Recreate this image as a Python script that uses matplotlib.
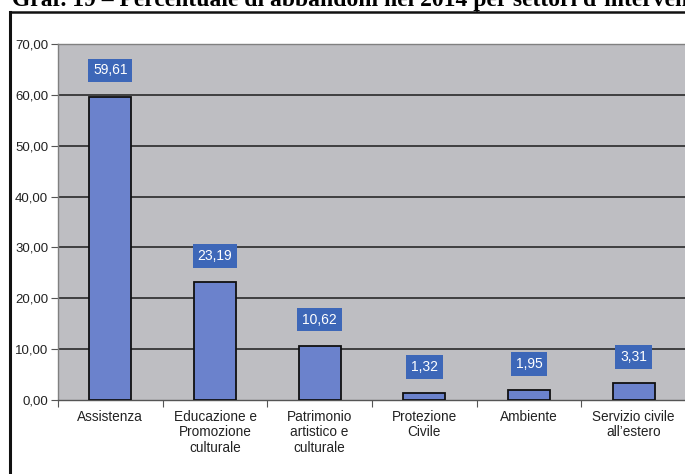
import matplotlib.pyplot as plt
from matplotlib.lines import Line2D

# Dati: percentuale di abbandoni nel 2014 per settore
settori = ["Assistenza", "Educazione e\nPromozione\nculturale", "Patrimonio\nartistico e\nculturale",
           "Protezione\nCivile", "Ambiente", "Servizio civile\nall\u2019estero"]
valori = [59.61, 23.19, 10.62, 1.32, 1.95, 3.31]
y_ticks = [0, 10, 20, 30, 40, 50, 60, 70]

W, H = 685, 474
fig = plt.figure(figsize=(W / 100, H / 100), dpi=100)
fig.patch.set_facecolor("white")

# area del grafico (in pixel dell'immagine)
left, right, top, bottom = 58, 686, 44, 400
ax = fig.add_axes([left / W, 1 - bottom / H, (right - left) / W, (bottom - top) / H])
ax.set_facecolor("#bebec2")

x = list(range(len(settori)))
ax.bar(x, valori, width=0.40, color="#6b82cc", edgecolor="#111111", linewidth=1.3, zorder=3)

ax.set_xlim(-0.5, len(settori) - 0.5)
ax.set_ylim(0, 70)
for v in y_ticks[1:-1]:
    ax.axhline(v, color="#2a2a2a", linewidth=1.2, zorder=1)

ax.set_yticks(y_ticks)
ax.set_yticklabels([f"{v:.2f}".replace(".", ",") for v in y_ticks],
                   fontsize=9.5, family="Liberation Sans", color="#222222")
ax.set_xticks([i - 0.5 for i in range(len(settori) + 1)])
ax.set_xticklabels([])
ax.set_xticks(x, minor=True)
ax.set_xticklabels(settori, minor=True, fontsize=9.8, family="Liberation Sans",
                   color="#222222", linespacing=1.15)
ax.tick_params(axis="x", which="minor", length=0, pad=7)
ax.tick_params(axis="x", which="major", length=5, color="#555555", direction="out")
ax.tick_params(axis="y", length=5, color="#555555", direction="out", pad=2)

for s in ["left", "top", "right"]:
    ax.spines[s].set_color("#808080")
    ax.spines[s].set_linewidth(1.0)
ax.spines["bottom"].set_color("#555555")
ax.spines["bottom"].set_linewidth(1.0)

# etichette dei valori in box blu
for xi, v in zip(x, valori):
    ax.annotate(f"{v:.2f}".replace(".", ","), (xi, v), xytext=(0, 19), textcoords="offset points",
                ha="center", va="center", fontsize=10, family="Liberation Sans", color="white",
                bbox=dict(boxstyle="square,pad=0.35", facecolor="#3d67b8", edgecolor="none"),
                zorder=4)

# cornice esterna e titolo (tagliato in alto)
fig.add_artist(Line2D([10 / W, 10 / W], [0, 1 - 12 / H], color="#111111", linewidth=2.2))
fig.add_artist(Line2D([10 / W, 1], [1 - 12 / H, 1 - 12 / H], color="#111111", linewidth=1.8))
fig.add_artist(Line2D([477 / W, 477 / W], [1 - 12 / H, 1], color="#111111", linewidth=1.2))
fig.text(12 / W, 1 - 6 / H, "Graf. 19 \u2013 Percentuale di abbandoni nel 2014 per settori d\u2019intervento",
         fontsize=17, fontweight="bold", family="Liberation Serif", ha="left", va="baseline")

fig.savefig("out.png", dpi=100)
